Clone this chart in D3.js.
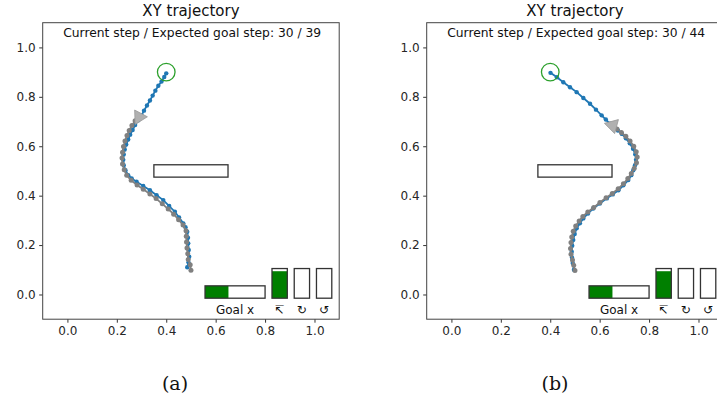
<!DOCTYPE html>
<html>
<head>
<meta charset="utf-8">
<script src="https://cdn.jsdelivr.net/npm/d3@7"></script>
<style>
  body { margin: 0; background: #fff; }
  svg { display: block; font-family: "DejaVu Sans", sans-serif; }
</style>
</head>
<body>
<svg id="chart" width="717" height="402"></svg>
<script>
// Подписи панелей и тексты
const panelCaptions = ["(a)", "(b)"];
const panelTitle = "XY trajectory";
const stepCurrent = [30, 30];
const stepExpected = [39, 44];
const tickValues = [0.0, 0.2, 0.4, 0.6, 0.8, 1.0];

// Цель и препятствие (в координатах данных)
const goalPoint = [0.4, 0.9];
const obstacleX = [0.35, 0.65];
const obstacleY = [0.475, 0.525];

// Индикаторы: прогресс к цели и три действия
const goalProgress = [0.39, 0.39];
const actionLabels = ["↸", "↻", "↺"];
const actionValuesA = [0.91, 0, 0];
const actionValuesB = [0.91, 0, 0];

// Ориентация текущей позы (градусы поворота маркера)
const poseHeading = [88, -75];

// (a) план (синий) и пройденный путь (серый)
const plannedA = [
  [0.485, 0.110], [0.490, 0.130], [0.493, 0.153], [0.491, 0.180], [0.489, 0.207],
  [0.488, 0.230], [0.485, 0.254], [0.478, 0.272], [0.469, 0.288], [0.452, 0.312],
  [0.435, 0.335], [0.412, 0.358], [0.388, 0.382], [0.361, 0.402], [0.334, 0.422],
  [0.307, 0.439], [0.280, 0.456], [0.260, 0.470], [0.246, 0.483], [0.235, 0.503],
  [0.228, 0.523], [0.226, 0.545], [0.228, 0.567], [0.232, 0.587], [0.238, 0.607],
  [0.246, 0.627], [0.254, 0.647], [0.264, 0.666], [0.274, 0.686], [0.287, 0.705],
  [0.300, 0.725], [0.310, 0.744], [0.322, 0.765], [0.334, 0.785], [0.345, 0.805],
  [0.356, 0.825], [0.368, 0.845], [0.381, 0.862], [0.392, 0.880], [0.400, 0.895]
];
const executedA = [
  [0.500, 0.098], [0.497, 0.120], [0.489, 0.142], [0.487, 0.165], [0.484, 0.188],
  [0.482, 0.212], [0.481, 0.236], [0.480, 0.258], [0.468, 0.281], [0.450, 0.303],
  [0.430, 0.325], [0.408, 0.346], [0.384, 0.367], [0.359, 0.388], [0.334, 0.407],
  [0.307, 0.426], [0.282, 0.443], [0.258, 0.462], [0.240, 0.483], [0.230, 0.505],
  [0.223, 0.528], [0.221, 0.552], [0.223, 0.576], [0.227, 0.599], [0.233, 0.621],
  [0.241, 0.643], [0.250, 0.664], [0.261, 0.684], [0.274, 0.703], [0.290, 0.718]
];

// (b) план и пройденный путь
const plannedB = [
  [0.496, 0.100], [0.491, 0.127], [0.488, 0.150], [0.487, 0.173], [0.489, 0.197],
  [0.493, 0.221], [0.499, 0.245], [0.507, 0.268], [0.520, 0.288], [0.534, 0.308],
  [0.553, 0.328], [0.574, 0.348], [0.601, 0.368], [0.629, 0.389], [0.653, 0.405],
  [0.676, 0.422], [0.696, 0.442], [0.716, 0.463], [0.728, 0.483], [0.736, 0.503],
  [0.743, 0.523], [0.747, 0.545], [0.744, 0.568], [0.735, 0.590], [0.722, 0.612],
  [0.706, 0.632], [0.690, 0.650], [0.674, 0.664], [0.659, 0.677], [0.642, 0.691],
  [0.625, 0.708], [0.608, 0.725], [0.585, 0.748], [0.561, 0.772], [0.534, 0.795],
  [0.507, 0.819], [0.480, 0.839], [0.453, 0.859], [0.427, 0.879], [0.401, 0.897]
];
const executedB = [
  [0.500, 0.097], [0.495, 0.118], [0.490, 0.140], [0.484, 0.163], [0.482, 0.186],
  [0.484, 0.210], [0.487, 0.233], [0.493, 0.256], [0.503, 0.277], [0.517, 0.297],
  [0.532, 0.316], [0.552, 0.334], [0.576, 0.352], [0.601, 0.372], [0.626, 0.392],
  [0.651, 0.409], [0.675, 0.428], [0.696, 0.448], [0.714, 0.469], [0.728, 0.490],
  [0.740, 0.511], [0.749, 0.533], [0.752, 0.556], [0.748, 0.578], [0.738, 0.600],
  [0.723, 0.621], [0.706, 0.640], [0.688, 0.656], [0.670, 0.670], [0.652, 0.684]
];

const planned = [plannedA, plannedB];
const executed = [executedA, executedB];
const actionValues = [actionValuesA, actionValuesB];

// Геометрия осей
const axesLeft = [42.7, 426.7];
const axesTop = 22.7;
const axesSize = 296.5;
const domain = [-0.1, 1.1];
const captionX = [175, 555];

// Геометрия индикаторов (в координатах данных)
const goalBarX = [0.557, 0.8];
const barY = [-0.015, 0.035];
const actionBarY = [-0.015, 0.105];
const actionBarX = [0.828, 0.918, 1.008];
const actionBarW = 0.062;

const svg = d3.select("#chart");
svg.append("rect").attr("width", 717).attr("height", 402).attr("fill", "#fff");

function drawPanel(i) {
  const x = d3.scaleLinear().domain(domain).range([axesLeft[i], axesLeft[i] + axesSize]);
  const y = d3.scaleLinear().domain(domain).range([axesTop + axesSize, axesTop]);
  const g = svg.append("g");

  // Оси
  const styleAxis = sel => {
    sel.select(".domain").remove();
    sel.selectAll(".tick line").attr("stroke", "#333");
    sel.selectAll(".tick text").attr("fill", "#262626").style("font-size", "12px")
      .style("font-family", "DejaVu Sans");
  };
  g.append("g")
    .attr("transform", `translate(0,${y(domain[0])})`)
    .call(d3.axisBottom(x).tickValues(tickValues).tickFormat(d3.format(".1f")).tickSize(3.5).tickPadding(3.5))
    .call(styleAxis);
  g.append("g")
    .attr("transform", `translate(${x(domain[0])},0)`)
    .call(d3.axisLeft(y).tickValues(tickValues).tickFormat(d3.format(".1f")).tickSize(3.5).tickPadding(3.5))
    .call(styleAxis);

  g.append("rect")
    .attr("x", x(domain[0])).attr("y", y(domain[1]))
    .attr("width", x(domain[1]) - x(domain[0]))
    .attr("height", y(domain[0]) - y(domain[1]))
    .attr("fill", "none").attr("stroke", "#444").attr("stroke-width", 1);

  // Заголовок и счётчик шагов
  g.append("text")
    .attr("x", x(0.5)).attr("y", 15.5)
    .attr("text-anchor", "middle").attr("fill", "#111")
    .style("font-size", "15px")
    .text(panelTitle);
  g.append("text")
    .attr("x", x(0.505)).attr("y", 36.5)
    .attr("text-anchor", "middle").attr("fill", "#111")
    .style("font-size", "12.3px")
    .text(`Current step / Expected goal step: ${stepCurrent[i]} / ${stepExpected[i]}`);

  // Препятствие
  g.append("rect")
    .attr("x", x(obstacleX[0])).attr("y", y(obstacleY[1]))
    .attr("width", x(obstacleX[1]) - x(obstacleX[0]))
    .attr("height", y(obstacleY[0]) - y(obstacleY[1]))
    .attr("fill", "none").attr("stroke", "#333").attr("stroke-width", 1.3);

  // Плановая траектория
  const line = d3.line().x(d => x(d[0])).y(d => y(d[1]));
  g.append("path").datum(planned[i])
    .attr("d", line).attr("fill", "none")
    .attr("stroke", "#1f77b4").attr("stroke-width", 1.8);
  g.selectAll(".plan-dot").data(planned[i]).join("circle")
    .attr("class", "plan-dot")
    .attr("cx", d => x(d[0])).attr("cy", d => y(d[1]))
    .attr("r", 2.2).attr("fill", "#1f77b4");

  // Пройденный путь
  g.append("path").datum(executed[i])
    .attr("d", line).attr("fill", "none")
    .attr("stroke", "#808080").attr("stroke-width", 1.8);
  g.selectAll(".exec-dot").data(executed[i]).join("circle")
    .attr("class", "exec-dot")
    .attr("cx", d => x(d[0])).attr("cy", d => y(d[1]))
    .attr("r", 2.5).attr("fill", "#808080");

  // Текущая поза
  const pose = executed[i][executed[i].length - 1];
  g.append("path")
    .attr("d", d3.symbol().type(d3.symbolTriangle).size(90)())
    .attr("transform", `translate(${x(pose[0])},${y(pose[1])}) rotate(${poseHeading[i]})`)
    .attr("fill", "#b0b0b0").attr("stroke", "#9a9a9a").attr("stroke-width", 0.8);

  // Цель
  g.append("circle")
    .attr("cx", x(goalPoint[0])).attr("cy", y(goalPoint[1]))
    .attr("r", 8.8).attr("fill", "none")
    .attr("stroke", "#2ca02c").attr("stroke-width", 1.3);

  // Индикатор "Goal x"
  const gw = x(goalBarX[1]) - x(goalBarX[0]);
  g.append("rect")
    .attr("x", x(goalBarX[0])).attr("y", y(barY[1]))
    .attr("width", gw * goalProgress[i])
    .attr("height", y(barY[0]) - y(barY[1]))
    .attr("fill", "#007f00");
  g.append("rect")
    .attr("x", x(goalBarX[0])).attr("y", y(barY[1]))
    .attr("width", gw).attr("height", y(barY[0]) - y(barY[1]))
    .attr("fill", "none").attr("stroke", "#333").attr("stroke-width", 1.3);
  g.append("text")
    .attr("x", x((goalBarX[0] + goalBarX[1]) / 2)).attr("y", 314)
    .attr("text-anchor", "middle").attr("fill", "#111")
    .style("font-size", "12px").text("Goal x");

  // Индикаторы действий
  const ah = y(actionBarY[0]) - y(actionBarY[1]);
  actionBarX.forEach((ax, k) => {
    const bx = x(ax), bw = x(ax + actionBarW) - x(ax);
    const fh = ah * actionValues[i][k];
    g.append("rect")
      .attr("x", bx).attr("y", y(actionBarY[0]) - fh)
      .attr("width", bw).attr("height", fh)
      .attr("fill", "#007f00");
    g.append("rect")
      .attr("x", bx).attr("y", y(actionBarY[1]))
      .attr("width", bw).attr("height", ah)
      .attr("fill", "none").attr("stroke", "#333").attr("stroke-width", 1.3);
    g.append("text")
      .attr("x", bx + bw / 2).attr("y", 314)
      .attr("text-anchor", "middle").attr("fill", "#111")
      .style("font-size", "12px").text(actionLabels[k]);
  });

  // Подпись панели
  svg.append("text")
    .attr("x", captionX[i]).attr("y", 390)
    .attr("text-anchor", "middle").attr("fill", "#111")
    .style("font-family", "DejaVu Serif").style("font-size", "19px")
    .text(panelCaptions[i]);
}

drawPanel(0);
drawPanel(1);
</script>
</body>
</html>
